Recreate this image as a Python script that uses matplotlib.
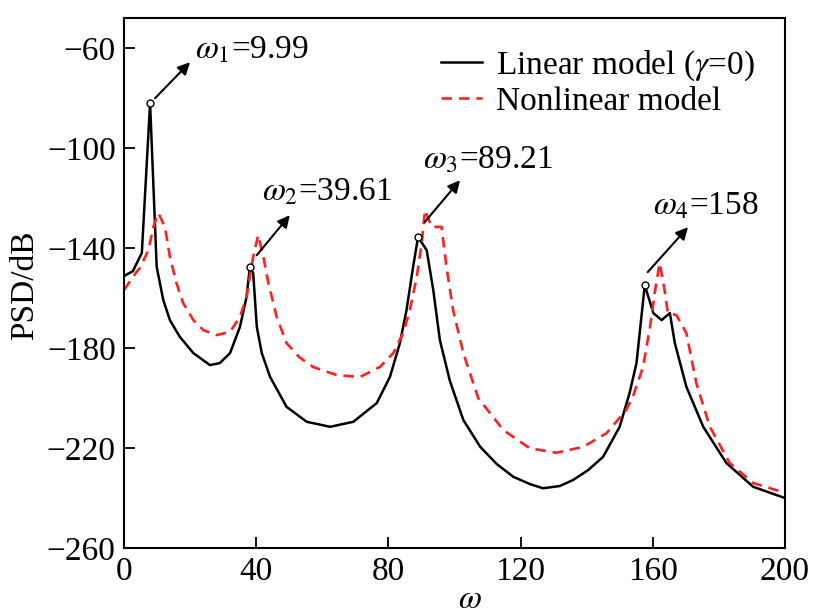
import matplotlib
matplotlib.use("Agg")
import matplotlib.pyplot as plt

plt.rcParams["font.family"] = ["Liberation Serif", "DejaVu Serif"]
plt.rcParams["mathtext.fontset"] = "stix"

# linear model (gamma=0)
omega_lin = [0, 2.7, 4.8, 5.4, 7.9, 9.9, 11.9, 13.9, 16.9, 21, 26, 29, 32.1, 35.1, 37.1,
             38.1, 39.1, 40.2, 41.7, 44.2, 49.2, 55.3, 62.4, 69.4, 76.5, 80.5, 83.5,
             85.5, 87.5, 89.0, 91.6, 93.6, 95.6, 98.6, 102.7, 107.8, 112.8, 117.8, 122.8,
             126.8, 131.9, 135.9, 140.5, 145, 150, 153, 155.1, 157.6, 160.2, 162.7, 165.2,
             166.7, 170.2, 175.3, 182.3, 190.4, 200]
psd_lin = [-151.2, -149.2, -143.5, -142, -82, -147.5, -160.8, -168.8, -175.5, -182,
           -186.8, -186, -182, -171.5, -159.5, -147.6, -150, -171.5, -182, -191.5,
           -203.5, -209.5, -211.5, -209.5, -202, -191.5, -178, -164.8, -147.5, -135.5,
           -140.8, -156.8, -176.8, -193, -208.8, -219.5, -226.4, -231.5, -234.4, -236.1,
           -235.2, -232.8, -228.8, -223.5, -211.5, -198, -186, -154.8, -166, -168.8, -166,
           -178, -195.5, -211.5, -226, -235.5, -240]

# nonlinear model
omega_nl = [0, 3.8, 4.8, 7.4, 8.9, 10.4, 12.4, 13.9, 15.9, 17.9, 21, 24, 28, 32.1, 35.1,
            37.1, 39.1, 40.6, 42.2, 43.7, 46.2, 49.2, 53, 57.3, 64.4, 71.4, 77.5, 81.5,
            84.5, 86.5, 88.6, 90.1, 91.1, 93.1, 96.1, 97.6, 99.6, 102.7, 107.2, 114.8,
            122.8, 130.9, 139, 146, 152, 154, 157.1, 159.2, 160.6, 162.1, 163.6, 164.6,
            167.2, 170.2, 173.2, 177.3, 183.3, 190.4, 200]
psd_nl = [-156.8, -149.5, -148, -140.8, -131.5, -126, -131.5, -143.5, -154, -162, -168.8,
          -172.8, -174.8, -173.5, -167.5, -159.5, -143.5, -134.8, -143.5, -154, -167.5,
          -178, -183.6, -187.6, -190.8, -191.6, -187.5, -182, -174, -164.8, -151.5, -138,
          -124.8, -131.5, -131.5, -147.5, -164.8, -182, -200, -212.8, -220.1, -221.9,
          -219.5, -214.1, -204.8, -199.5, -187.5, -171.5, -158, -146, -156.8, -166,
          -166.8, -174, -194, -211.5, -226, -234, -237.9]

peak_omega = [7.9, 38.1, 89.0, 157.6]
peak_labels = [r"$\omega_1$=9.99", r"$\omega_2$=39.61", r"$\omega_3$=89.21", r"$\omega_4$=158"]
# arrow start, arrow end, text anchor (data coords)
arrow_start = [(9.4, -80), (40.2, -142.8), (91, -129.6), (158.5, -149.6)]
arrow_end = [(20, -65.6), (50.2, -126.8), (101.7, -112.8), (170.7, -131.6)]
text_pos = [(21.5, -60.8), (41.8, -117.6), (90.5, -104.8), (160, -123.2)]

fig = plt.figure(figsize=(8.21, 6.16), dpi=100)
ax = fig.add_axes([0.151, 0.1104, 0.805, 0.860])

ax.plot(omega_lin, psd_lin, color="black", lw=1.8, label=r"Linear model ($\gamma$=0)")
ax.plot(omega_nl, psd_nl, color="#ff2020", lw=1.9, ls=(0, (4, 2.6)),
        label="Nonlinear model")

pk = [omega_lin.index(w) for w in peak_omega]
ax.plot([omega_lin[i] for i in pk], [psd_lin[i] for i in pk], "o",
        ms=5, mfc="white", mec="black", mew=1.0, zorder=5)

for lab, s, e, t in zip(peak_labels, arrow_start, arrow_end, text_pos):
    ax.annotate("", xy=e, xytext=s,
                arrowprops=dict(arrowstyle="-|>", color="black", lw=1.5,
                                mutation_scale=18, shrinkA=0, shrinkB=0))
    ax.text(t[0], t[1], lab, fontsize=24, ha="left", va="center")

ax.set_xlim(0, 200)
ax.set_ylim(-260, -48)
ax.set_xticks([0, 40, 80, 120, 160, 200])
ax.set_yticks([-260, -220, -180, -140, -100, -60])
ax.set_yticklabels(["\u2212260", "\u2212220", "\u2212180", "\u2212140", "\u2212100", "\u221260"])
ax.tick_params(direction="in", length=8, width=1.3, labelsize=24, pad=6)
for sp in ax.spines.values():
    sp.set_linewidth(1.5)

ax.set_ylabel("PSD/dB", fontsize=24)
ax.yaxis.set_label_coords(-0.127, 0.496)
ax.set_xlabel(r"$\omega$", fontsize=24)
ax.xaxis.set_label_coords(0.523, -0.068)

ax.legend(loc="upper right", frameon=False, fontsize=24, handlelength=1.25,
          handletextpad=0.4, labelspacing=0.1, borderaxespad=0.5)

fig.savefig("out.png", dpi=100)
